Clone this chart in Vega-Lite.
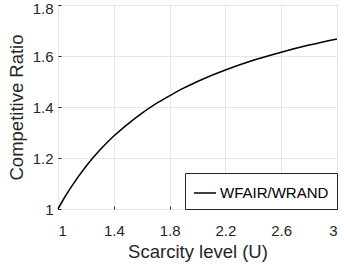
{
  "$schema": "https://vega.github.io/schema/vega-lite/v6.json",
  "width": 279,
  "height": 204,
  "autosize": {"type": "none"},
  "padding": {"left": 58, "top": 5, "right": 7, "bottom": 62},
  "background": "white",
  "config": {
    "font": "Liberation Sans",
    "view": {"stroke": "#262626", "strokeWidth": 1},
    "axis": {
      "domain": false,
      "grid": true,
      "gridColor": "#e6e6e6",
      "gridWidth": 1,
      "tickColor": "#262626",
      "tickSize": -3,
      "labelFont": "Liberation Sans",
      "labelFontSize": 15,
      "labelColor": "#262626",
      "titleFont": "Liberation Sans",
      "titleFontSize": 18.5,
      "titleFontWeight": "normal",
      "titleColor": "#262626"
    }
  },
  "data": {
    "values": [
      {"U": 1.0, "CR": 1.0, "series": "WFAIR/WRAND"},
      {"U": 1.05, "CR": 1.048, "series": "WFAIR/WRAND"},
      {"U": 1.1, "CR": 1.091, "series": "WFAIR/WRAND"},
      {"U": 1.2, "CR": 1.167, "series": "WFAIR/WRAND"},
      {"U": 1.3, "CR": 1.231, "series": "WFAIR/WRAND"},
      {"U": 1.4, "CR": 1.286, "series": "WFAIR/WRAND"},
      {"U": 1.5, "CR": 1.333, "series": "WFAIR/WRAND"},
      {"U": 1.6, "CR": 1.375, "series": "WFAIR/WRAND"},
      {"U": 1.7, "CR": 1.412, "series": "WFAIR/WRAND"},
      {"U": 1.8, "CR": 1.444, "series": "WFAIR/WRAND"},
      {"U": 1.9, "CR": 1.474, "series": "WFAIR/WRAND"},
      {"U": 2.0, "CR": 1.5, "series": "WFAIR/WRAND"},
      {"U": 2.2, "CR": 1.545, "series": "WFAIR/WRAND"},
      {"U": 2.4, "CR": 1.583, "series": "WFAIR/WRAND"},
      {"U": 2.6, "CR": 1.615, "series": "WFAIR/WRAND"},
      {"U": 2.8, "CR": 1.643, "series": "WFAIR/WRAND"},
      {"U": 3.0, "CR": 1.667, "series": "WFAIR/WRAND"}
    ]
  },
  "mark": {"type": "line", "strokeWidth": 1.5, "interpolate": "monotone"},
  "encoding": {
    "x": {
      "field": "U",
      "type": "quantitative",
      "title": "Scarcity level (U)",
      "scale": {"domain": [1, 3], "nice": false, "zero": false},
      "axis": {"values": [1, 1.4, 1.8, 2.2, 2.6, 3], "format": ".1~f", "labelPadding": 17, "titlePadding": 4}
    },
    "y": {
      "field": "CR",
      "type": "quantitative",
      "title": "Competitive Ratio",
      "scale": {"domain": [1, 1.8], "nice": false, "zero": false},
      "axis": {
        "values": [1, 1.2, 1.4, 1.6, 1.8],
        "format": ".1~f",
        "labelPadding": 8,
        "titlePadding": 6,
        "labelOffset": {"condition": {"test": "datum.value >= 1.79", "value": 3}, "value": 0}
      }
    },
    "color": {
      "field": "series",
      "type": "nominal",
      "scale": {"range": ["black"]},
      "legend": {
        "title": null,
        "orient": "bottom-right",
        "offset": 0,
        "symbolType": "stroke",
        "symbolSize": 484,
        "symbolStrokeWidth": 1.5,
        "labelFontSize": 15,
        "labelColor": "black",
        "labelFont": "Liberation Sans",
        "labelOffset": 3,
        "padding": 8,
        "strokeColor": "#262626",
        "fillColor": "white"
      }
    }
  }
}
